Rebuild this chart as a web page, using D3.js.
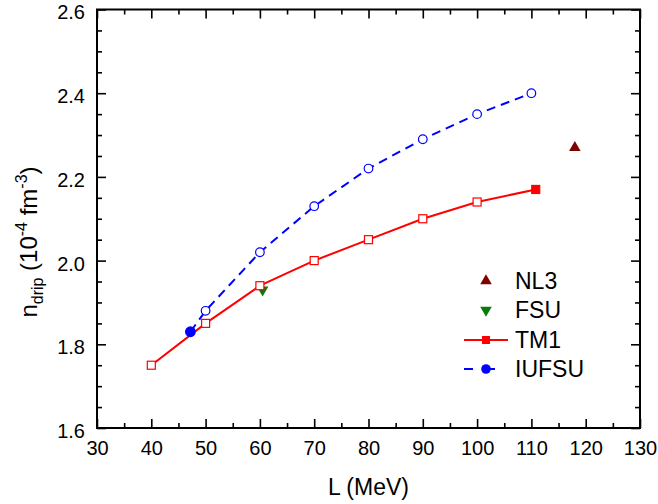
<!DOCTYPE html>
<html>
<head>
<meta charset="utf-8">
<script src="https://cdn.jsdelivr.net/npm/d3@7"></script>
<style>
  html, body { margin: 0; padding: 0; background: #fff; }
  svg { display: block; font-family: "Liberation Sans", Arial, sans-serif; }
</style>
</head>
<body>
<svg id="chart" width="658" height="504"></svg>
<script>
// Neutron drip density versus symmetry-energy slope L
const tm1L      = [40, 50, 60, 70, 80, 90, 100, 110.8];
const tm1N      = [1.75, 1.85, 1.94, 2.00, 2.05, 2.10, 2.14, 2.17];
const tm1Filled = [false, false, false, false, false, false, false, true];

const iufsuL      = [47.2, 50, 60, 70, 80, 90, 100, 110];
const iufsuN      = [1.83, 1.88, 2.02, 2.13, 2.22, 2.29, 2.35, 2.40];
const iufsuFilled = [true, false, false, false, false, false, false, false];

const nl3Point = [118, 2.27];
const fsuPoint = [60.5, 1.93];

const xMajorTicks = [30, 40, 50, 60, 70, 80, 90, 100, 110, 120, 130];
const xMinorTicks = [35, 45, 55, 65, 75, 85, 95, 105, 115, 125];
const yMajorTicks = [1.6, 1.8, 2.0, 2.2, 2.4, 2.6];
const yMinorTicks = [1.65, 1.7, 1.75, 1.85, 1.9, 1.95, 2.05, 2.1, 2.15, 2.25, 2.3, 2.35, 2.45, 2.5, 2.55];

const legendNames = ["NL3", "FSU", "TM1", "IUFSU"];

const svg = d3.select("#chart");
const plotLeft = 97, plotRight = 640, plotTop = 9.5, plotBottom = 428;

const x = d3.scaleLinear().domain([30, 130]).range([plotLeft, plotRight]);
const y = d3.scaleLinear().domain([1.6, 2.6]).range([plotBottom, plotTop]);

const RED = "#ff0000", BLUE = "#0000ff", GREEN = "#0a7a0a", DARKRED = "#7f0000";

// axes: inward ticks on all four sides, labels bottom and left
function styleAxis(g) {
  g.select(".domain").remove();
  g.selectAll(".tick line").attr("stroke", "#000").attr("stroke-width", 1.6);
  g.selectAll(".tick text").attr("fill", "#000").style("font-size", "20px")
    .style("font-family", "'Liberation Sans', Arial, sans-serif");
}

svg.append("g").attr("transform", `translate(0,${plotBottom})`)
  .call(d3.axisBottom(x).tickValues(xMajorTicks).tickFormat(d3.format("d"))
    .tickSizeInner(-9).tickSizeOuter(0).tickPadding(13))
  .call(styleAxis);
svg.append("g").attr("transform", `translate(0,${plotBottom})`)
  .call(d3.axisBottom(x).tickValues(xMinorTicks).tickFormat("")
    .tickSizeInner(-5).tickSizeOuter(0))
  .call(styleAxis);
svg.append("g").attr("transform", `translate(0,${plotTop})`)
  .call(d3.axisTop(x).tickValues(xMajorTicks).tickFormat("")
    .tickSizeInner(-9).tickSizeOuter(0))
  .call(styleAxis);
svg.append("g").attr("transform", `translate(0,${plotTop})`)
  .call(d3.axisTop(x).tickValues(xMinorTicks).tickFormat("")
    .tickSizeInner(-5).tickSizeOuter(0))
  .call(styleAxis);

svg.append("g").attr("transform", `translate(${plotLeft},0)`)
  .call(d3.axisLeft(y).tickValues(yMajorTicks).tickFormat(d3.format(".1f"))
    .tickSizeInner(-9).tickSizeOuter(0).tickPadding(12))
  .call(styleAxis)
  .call(g => g.selectAll(".tick text").attr("y", 3));
svg.append("g").attr("transform", `translate(${plotLeft},0)`)
  .call(d3.axisLeft(y).tickValues(yMinorTicks).tickFormat("")
    .tickSizeInner(-5).tickSizeOuter(0))
  .call(styleAxis);
svg.append("g").attr("transform", `translate(${plotRight},0)`)
  .call(d3.axisRight(y).tickValues(yMajorTicks).tickFormat("")
    .tickSizeInner(-9).tickSizeOuter(0))
  .call(styleAxis);
svg.append("g").attr("transform", `translate(${plotRight},0)`)
  .call(d3.axisRight(y).tickValues(yMinorTicks).tickFormat("")
    .tickSizeInner(-5).tickSizeOuter(0))
  .call(styleAxis);

// frame
svg.append("rect")
  .attr("x", plotLeft).attr("y", plotTop)
  .attr("width", plotRight - plotLeft).attr("height", plotBottom - plotTop)
  .attr("fill", "none").attr("stroke", "#000").attr("stroke-width", 2);

// axis titles
svg.append("text")
  .attr("x", (plotLeft + plotRight) / 2).attr("y", 495)
  .attr("text-anchor", "middle").style("font-size", "23px")
  .text("L (MeV)");

const yTitle = svg.append("text")
  .attr("transform", `translate(37,242) rotate(-90)`)
  .attr("text-anchor", "middle").style("font-size", "24px");
yTitle.append("tspan").text("n");
yTitle.append("tspan").attr("dy", 6).style("font-size", "16px").text("drip");
yTitle.append("tspan").attr("dy", -6).text(" (10");
yTitle.append("tspan").attr("dy", -10).style("font-size", "16px").text("-4");
yTitle.append("tspan").attr("dy", 10).text(" fm");
yTitle.append("tspan").attr("dy", -10).style("font-size", "16px").text("-3");
yTitle.append("tspan").attr("dy", 10).text(")");

// curves
const line = d3.line().x(d => x(d[0])).y(d => y(d[1]));
const tm1Pts = tm1L.map((l, i) => [l, tm1N[i], tm1Filled[i]]);
const iufsuPts = iufsuL.map((l, i) => [l, iufsuN[i], iufsuFilled[i]]);

svg.append("path").datum(iufsuPts).attr("d", line)
  .attr("fill", "none").attr("stroke", BLUE).attr("stroke-width", 2)
  .attr("stroke-dasharray", "9,6");
svg.append("path").datum(tm1Pts).attr("d", line)
  .attr("fill", "none").attr("stroke", RED).attr("stroke-width", 2);

// single-model points
const triUp = d3.symbol().type(d3.symbolTriangle).size(58);
svg.append("path").attr("d", triUp())
  .attr("transform", `translate(${x(nl3Point[0])},${y(nl3Point[1])})`)
  .attr("fill", DARKRED);
svg.append("path").attr("d", triUp())
  .attr("transform", `translate(${x(fsuPoint[0])},${y(fsuPoint[1])}) rotate(180)`)
  .attr("fill", GREEN);

// curve markers
const sq = 8;
svg.selectAll(".tm1").data(tm1Pts).join("rect")
  .attr("x", d => x(d[0]) - sq / 2).attr("y", d => y(d[1]) - sq / 2)
  .attr("width", sq).attr("height", sq)
  .attr("fill", d => d[2] ? RED : "#fff")
  .attr("stroke", RED).attr("stroke-width", 1.2);

svg.selectAll(".iufsu").data(iufsuPts).join("circle")
  .attr("cx", d => x(d[0])).attr("cy", d => y(d[1]))
  .attr("r", d => d[2] ? 4.8 : 4.3)
  .attr("fill", d => d[2] ? BLUE : "#fff")
  .attr("stroke", BLUE).attr("stroke-width", 1.2);

// legend
const legX = 486, legTextX = 515;
const legY = [281, 310, 340, 369];
const leg = svg.append("g");
leg.append("path").attr("d", triUp())
  .attr("transform", `translate(${legX},${legY[0]})`).attr("fill", DARKRED);
leg.append("path").attr("d", triUp())
  .attr("transform", `translate(${legX},${legY[1]}) rotate(180)`).attr("fill", GREEN);
leg.append("line").attr("x1", 464).attr("x2", 508)
  .attr("y1", legY[2]).attr("y2", legY[2])
  .attr("stroke", RED).attr("stroke-width", 2);
leg.append("rect").attr("x", legX - sq / 2).attr("y", legY[2] - sq / 2)
  .attr("width", sq).attr("height", sq).attr("fill", RED);
leg.append("line").attr("x1", 464).attr("x2", 508)
  .attr("y1", legY[3]).attr("y2", legY[3])
  .attr("stroke", BLUE).attr("stroke-width", 2).attr("stroke-dasharray", "9,13");
leg.append("circle").attr("cx", legX).attr("cy", legY[3]).attr("r", 4.8).attr("fill", BLUE);

leg.selectAll(".lt").data(legendNames).join("text")
  .attr("x", legTextX).attr("y", (d, i) => legY[i])
  .attr("dy", "0.36em").style("font-size", "23px")
  .text(d => d);
</script>
</body>
</html>
